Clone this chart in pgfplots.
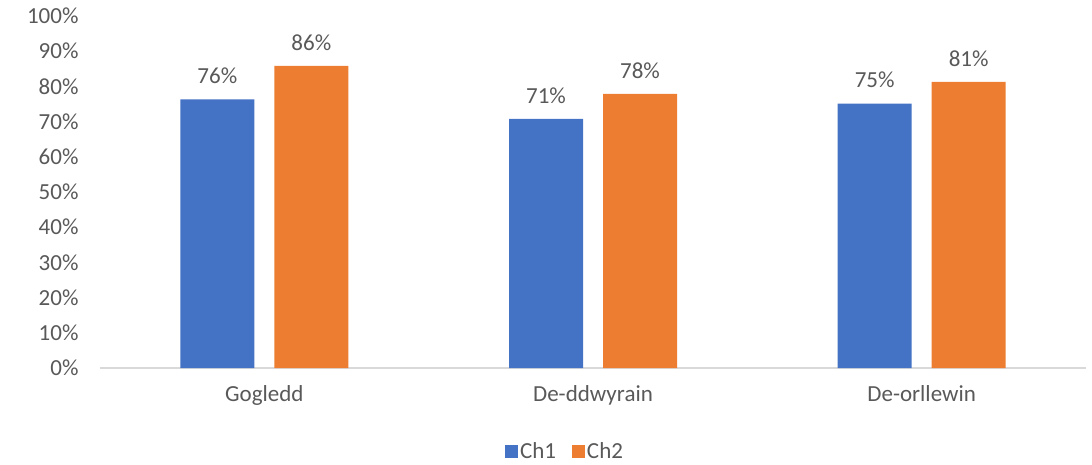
\documentclass[border=0pt]{standalone}
\usepackage{fontspec}
\setmainfont{Carlito}
\usepackage{pgfplots}
\pgfplotsset{compat=1.18}
\definecolor{cblue}{HTML}{4472C4}
\definecolor{corange}{HTML}{ED7D31}
\definecolor{ctext}{HTML}{595959}
\definecolor{caxis}{HTML}{D9D9D9}
\newcommand{\ff}{\fontsize{23bp}{26bp}\selectfont}
\begin{document}
\begin{tikzpicture}
\begin{axis}[
  at={(0,0)}, anchor=south west,
  scale only axis, width=986bp, height=352bp,
  xmin=-0.5, xmax=2.5, ymin=0, ymax=100,
  ybar=20bp, bar width=74bp,
  xtick=data, xticklabels={Gogledd,De-ddwyrain,De-orllewin},
  ytick={0,10,...,100},
  yticklabel={\pgfmathprintnumber{\tick}\%},
  /pgf/number format/assume math mode=true,
  major tick length=0pt,
  axis x line*=bottom, axis y line*=left,
  y axis line style={draw=none},
  x axis line style={draw=caxis, line width=1.2bp},
  tick label style={font=\ff, text=ctext},
  xticklabel style={yshift=-14bp},
  yticklabel style={xshift=-18bp},
  nodes near coords={\pgfmathprintnumber[fixed,precision=0]{\pgfplotspointmeta}\%},
  nodes near coords style={font=\ff, text=ctext, anchor=south, yshift=12bp, /pgf/number format/assume math mode=true},
  legend style={at={(0.4716,-0.236)}, anchor=center, draw=none, fill=none, font=\ff, text=ctext, legend columns=2,
    /tikz/every even column/.append style={column sep=14bp}},
  legend image code/.code={\fill[#1] (0bp,-6.5bp) rectangle (13bp,6.5bp);},
  enlarge x limits=false,
]
\addplot[fill=cblue, draw=none] coordinates {(0,76.3) (1,70.8) (2,75.1)};
\addplot[fill=corange, draw=none] coordinates {(0,85.8) (1,77.9) (2,81.3)};
\legend{Ch1,Ch2}
\end{axis}
\useasboundingbox (-100bp,-97bp) rectangle (992bp,368bp);
\end{tikzpicture}
\end{document}
